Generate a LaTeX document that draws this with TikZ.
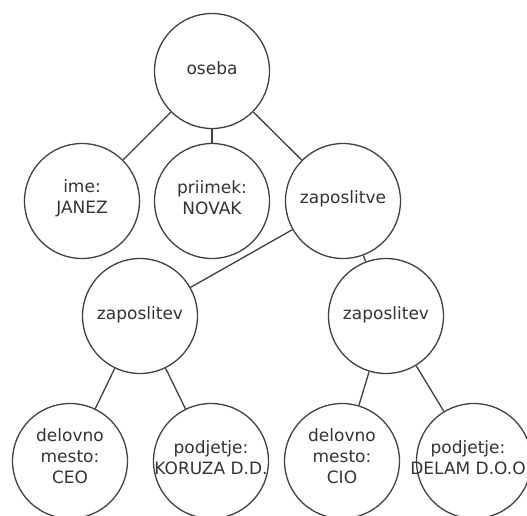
\documentclass[tikz,border=0pt]{standalone}
\usepackage{fontspec}
\setmainfont{DejaVu Sans}
\begin{document}
\begin{tikzpicture}[x=1pt,y=-1pt,
  bubble/.style={circle,draw=black!75,line width=1.3pt,minimum size=115pt,inner sep=0pt},
  caption/.style={align=center,text=black!80,font=\fontsize{17}{21}\selectfont,inner sep=0pt},
  link/.style={draw=black!75,line width=1.3pt}]
\clip (0,0) rectangle (527,515);
\fill[white] (0,0) rectangle (527,515);

% circles of the tree
\node[bubble] (oseba)  at (212,71)  {};
\node[bubble] (ime)    at (82,201)  {};
\node[bubble] (priimek) at (212,201) {};
\node[bubble] (zaps)   at (343,201) {};
\node[bubble] (zapL)   at (140,316) {};
\node[bubble] (zapR)   at (386,316) {};
\node[bubble] (ceo)    at (70,461)  {};
\node[bubble] (koruza) at (211,461) {};
\node[bubble] (cio)    at (342,461) {};
\node[bubble] (delam)  at (474,461) {};

% labels inside the circles
\node[caption] (oseba-t)   at ([yshift=3pt]oseba.center)   {oseba};
\node[caption] (ime-t)     at ([yshift=3pt]ime.center)     {ime:\\JANEZ};
\node[caption] (priimek-t) at ([yshift=3pt]priimek.center) {priimek:\\NOVAK};
\node[caption] (zaps-t)    at ([yshift=2.5pt]zaps.center)  {zaposlitve};
\node[caption] (zapL-t)    at ([yshift=1pt]zapL.center)    {zaposlitev};
\node[caption] (zapR-t)    at ([yshift=1pt]zapR.center)    {zaposlitev};
\node[caption] (ceo-t)     at ([yshift=5pt]ceo.center)     {delovno\\mesto:\\CEO};
\node[caption] (koruza-t)  at ([yshift=3pt]koruza.center)  {podjetje:\\KORUZA D.D.};
\node[caption] (cio-t)     at ([yshift=5pt]cio.center)     {delovno\\mesto:\\CIO};
\node[caption] (delam-t)   at ([xshift=-6pt,yshift=3pt]delam.center) {podjetje:\\DELAM D.O.O};

% edges
\draw[link] (oseba) -- (ime);
\draw[link] (oseba) -- (priimek);
\draw[link] (oseba) -- (zaps);
\draw[link] (zaps) -- (zapL);
\draw[link] (zaps) -- (zapR);
\draw[link] (zapL) -- (ceo);
\draw[link] (zapL) -- (koruza);
\draw[link] (zapR) -- (cio);
\draw[link] (zapR) -- (delam);
\end{tikzpicture}
\end{document}
